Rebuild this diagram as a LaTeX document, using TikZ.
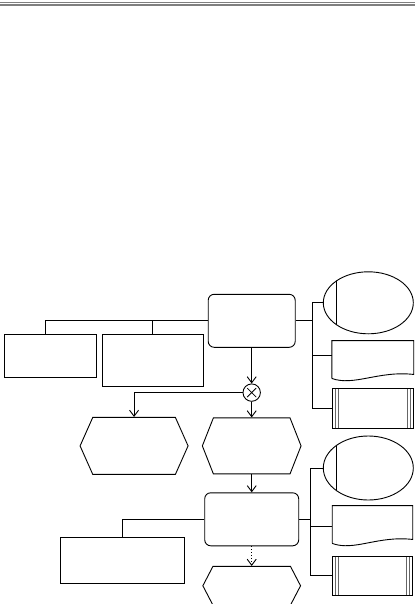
\documentclass[tikz,border=0pt]{standalone}
\usepackage{tikz}
\usetikzlibrary{arrows.meta,positioning,shapes.geometric,shapes.symbols}

% document symbol: straight top and sides, wavy bottom
\newcommand{\docoutline}[1]{%
  \draw ([yshift=4pt]#1.south west) -- (#1.north west) -- (#1.north east) -- ([yshift=8pt]#1.south east)
    .. controls ([xshift=-35pt,yshift=12pt]#1.south east) and ([xshift=22pt,yshift=-4pt]#1.south west) .. ([yshift=4pt]#1.south west);}

\begin{document}
\begin{tikzpicture}[
  x=1pt, y=-1pt,
  line width=0.9pt,
  func/.style={draw, rounded corners=6pt, minimum width=87pt, minimum height=53pt, inner sep=0pt},
  event/.style={draw, signal, signal to=west and east, signal pointer angle=132, minimum width=108pt, minimum height=57pt, inner sep=0pt},
  side/.style={draw, rectangle, inner sep=0pt},
  orgunit/.style={draw, ellipse, minimum width=90pt, minimum height=62pt, inner sep=0pt,
    path picture={\draw ([xshift=13.4pt]path picture bounding box.north west) -- ([xshift=13.4pt]path picture bounding box.south west);}},
  docnode/.style={rectangle, minimum width=81pt, minimum height=41pt, inner sep=0pt},
  infosys/.style={draw, rectangle, minimum width=80.5pt, minimum height=39.7pt, inner sep=0pt,
    path picture={\draw[black!60, line width=0.7pt]
      ([xshift=3pt]path picture bounding box.north west) -- ([xshift=3pt]path picture bounding box.south west)
      ([xshift=6pt]path picture bounding box.north west) -- ([xshift=6pt]path picture bounding box.south west)
      ([xshift=-3pt]path picture bounding box.north east) -- ([xshift=-3pt]path picture bounding box.south east)
      ([xshift=-6pt]path picture bounding box.north east) -- ([xshift=-6pt]path picture bounding box.south east);}},
  xorconn/.style={draw, circle, minimum size=17.4pt, inner sep=0pt,
    path picture={\draw[line width=0.8pt]
      ([shift={(-4.5pt,-4.5pt)}]path picture bounding box.center) -- ([shift={(4.5pt,4.5pt)}]path picture bounding box.center)
      ([shift={(-4.5pt,4.5pt)}]path picture bounding box.center) -- ([shift={(4.5pt,-4.5pt)}]path picture bounding box.center);}},
  arr/.style={-{Straight Barb[length=6pt,width=9pt]}}
]
\useasboundingbox (0,0) rectangle (415,604);
% header rule
\draw[black!50, line width=0.8pt] (0,2.3) -- (415,2.3);
\draw[black!50, line width=1.3pt] (0,5) -- (415,5);

% main column
\node[func] (func1) at (251.7,320.8) {};
\node[xorconn, below=35.7pt of func1] (xor) {};
\node[event, below=15.7pt of xor, minimum width=98.7pt, minimum height=56pt, signal pointer angle=137] (ev2) {};
\node[event, left=13.3pt of ev2] (ev1) {};
\node[func, below=18pt of ev2, minimum width=94pt] (func2) {};
\node[event, below=19.7pt of func2, minimum width=97.7pt, minimum height=38.7pt, signal pointer angle=125] (ev3) {};

% left boxes
\node[side, minimum width=100.7pt, minimum height=52.3pt] (side2) at (152.7,360.2) {};
\node[side, left=4.6pt of side2.north west, anchor=north east, minimum width=92.4pt, minimum height=43.3pt] (side1) {};
\node[side, minimum width=124pt, minimum height=46.3pt] (side3) at (122.3,560.2) {};

% right column
\node[orgunit] (org1) at (368.3,302.8) {};
\node[docnode] (doc1) at (372.8,361.5) {};
\node[infosys] (sys1) at (372.8,408.2) {};
\node[orgunit, minimum height=64pt] (org2) at (368.3,468) {};
\node[docnode, minimum width=79.6pt] (doc2) at (372.5,526.5) {};
\node[infosys, minimum width=79.6pt] (sys2) at (372.5,575.9) {};
\docoutline{doc1}
\docoutline{doc2}

% control flow
\draw[arr] (func1) -- (xor);
\draw[arr] (xor) -- (ev2);
\draw[arr] (xor.west) -| (ev1.north);
\draw[arr] (ev2) -- (func2);
\draw[arr, dotted] (func2) -- (ev3);

% assignments
\draw (func1.west) -| ([xshift=-4.8pt]side1.north);
\draw (func1.west) -| (side2.north);
\draw (func2.west) -| (side3.north);
\coordinate[right=16.7pt of func1.east] (bus1);
\draw (func1.east) -- (bus1);
\draw (org1.west) -| (bus1) |- (sys1.west);
\draw (bus1) |- ([yshift=6pt]doc1.west);
\coordinate[right=11.7pt of func2.east] (bus2);
\draw (func2.east) -- (bus2);
\draw (org2.west) -| (bus2) |- (sys2.west);
\draw (bus2) |- (doc2.west);
\end{tikzpicture}
\end{document}
